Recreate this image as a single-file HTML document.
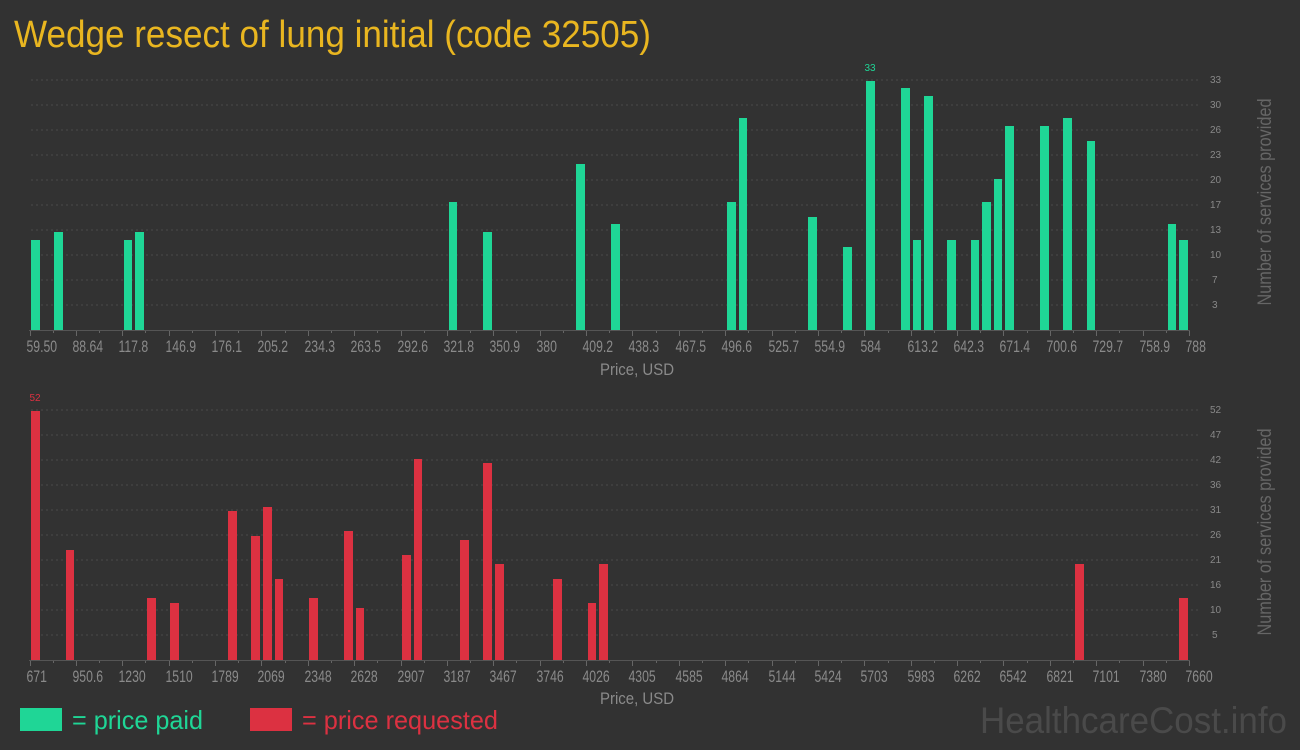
<!DOCTYPE html>
<html><head><meta charset="utf-8"><style>
html,body{margin:0;padding:0;background:#323232;}
svg{display:block;}
text{font-family:"Liberation Sans Narrow","Liberation Sans",sans-serif;}
</style></head><body>
<svg width="1300" height="750" xmlns="http://www.w3.org/2000/svg">
<rect width="1300" height="750" fill="#323232"/>
<text x="14" y="47" font-size="38" fill="#e9b620" textLength="637" lengthAdjust="spacingAndGlyphs">Wedge resect of lung initial (code 32505)</text>

<g stroke="#4a4a4a" stroke-dasharray="2,3" stroke-width="1">
<line x1="31" x2="1200" y1="80" y2="80"/><line x1="31" x2="1200" y1="105" y2="105"/><line x1="31" x2="1200" y1="130" y2="130"/><line x1="31" x2="1200" y1="155" y2="155"/><line x1="31" x2="1200" y1="180" y2="180"/><line x1="31" x2="1200" y1="205" y2="205"/><line x1="31" x2="1200" y1="230" y2="230"/><line x1="31" x2="1200" y1="255" y2="255"/><line x1="31" x2="1200" y1="280" y2="280"/><line x1="31" x2="1200" y1="305" y2="305"/>
<line x1="31" x2="1200" y1="410" y2="410"/><line x1="31" x2="1200" y1="435" y2="435"/><line x1="31" x2="1200" y1="460" y2="460"/><line x1="31" x2="1200" y1="485" y2="485"/><line x1="31" x2="1200" y1="510" y2="510"/><line x1="31" x2="1200" y1="535" y2="535"/><line x1="31" x2="1200" y1="560" y2="560"/><line x1="31" x2="1200" y1="585" y2="585"/><line x1="31" x2="1200" y1="610" y2="610"/><line x1="31" x2="1200" y1="635" y2="635"/>
</g>

<g fill="#1fd696">
<rect x="31" y="240" width="9" height="90"/><rect x="54" y="232" width="9" height="98"/><rect x="124" y="240" width="8" height="90"/><rect x="135" y="232" width="9" height="98"/>
<rect x="449" y="202" width="8" height="128"/><rect x="483" y="232" width="9" height="98"/><rect x="576" y="164" width="9" height="166"/><rect x="611" y="224" width="9" height="106"/>
<rect x="727" y="202" width="9" height="128"/><rect x="739" y="118" width="8" height="212"/><rect x="808" y="217" width="9" height="113"/><rect x="843" y="247" width="9" height="83"/>
<rect x="866" y="81" width="9" height="249"/><rect x="901" y="88" width="9" height="242"/><rect x="913" y="240" width="8" height="90"/><rect x="924" y="96" width="9" height="234"/>
<rect x="947" y="240" width="9" height="90"/><rect x="971" y="240" width="8" height="90"/><rect x="982" y="202" width="9" height="128"/><rect x="994" y="179" width="8" height="151"/>
<rect x="1005" y="126" width="9" height="204"/><rect x="1040" y="126" width="9" height="204"/><rect x="1063" y="118" width="9" height="212"/><rect x="1087" y="141" width="8" height="189"/>
<rect x="1168" y="224" width="8" height="106"/><rect x="1179" y="240" width="9" height="90"/>
</g>
<text x="870" y="71" font-size="10" fill="#1fd696" text-anchor="middle">33</text>

<g fill="#dc3141">
<rect x="31" y="411" width="9" height="249"/><rect x="66" y="550" width="8" height="110"/><rect x="147" y="598" width="9" height="62"/><rect x="170" y="603" width="9" height="57"/>
<rect x="228" y="511" width="9" height="149"/><rect x="251" y="536" width="9" height="124"/><rect x="263" y="507" width="9" height="153"/><rect x="275" y="579" width="8" height="81"/>
<rect x="309" y="598" width="9" height="62"/><rect x="344" y="531" width="9" height="129"/><rect x="356" y="608" width="8" height="52"/><rect x="402" y="555" width="9" height="105"/>
<rect x="414" y="459" width="8" height="201"/><rect x="460" y="540" width="9" height="120"/><rect x="483" y="463" width="9" height="197"/><rect x="495" y="564" width="9" height="96"/>
<rect x="553" y="579" width="9" height="81"/><rect x="588" y="603" width="8" height="57"/><rect x="599" y="564" width="9" height="96"/>
<rect x="1075" y="564" width="9" height="96"/><rect x="1179" y="598" width="9" height="62"/>
</g>
<text x="35" y="401" font-size="10" fill="#dc3141" text-anchor="middle">52</text>

<g stroke="#555" stroke-width="1">
<line x1="29" x2="1190" y1="330.5" y2="330.5"/><line x1="29" x2="1190" y1="660.5" y2="660.5"/>
</g>
<g id="ticks" stroke="#666" stroke-width="1"></g>

<g font-size="10" fill="#888">
<text x="1210" y="83">33</text><text x="1210" y="108">30</text><text x="1210" y="133">26</text><text x="1210" y="158">23</text><text x="1210" y="183">20</text><text x="1210" y="208">17</text><text x="1210" y="233">13</text><text x="1210" y="258">10</text><text x="1212" y="283">7</text><text x="1212" y="308">3</text>
<text x="1210" y="413">52</text><text x="1210" y="438">47</text><text x="1210" y="463">42</text><text x="1210" y="488">36</text><text x="1210" y="513">31</text><text x="1210" y="538">26</text><text x="1210" y="563">21</text><text x="1210" y="588">16</text><text x="1210" y="613">10</text><text x="1212" y="638">5</text>
</g>
<g font-size="19" fill="#666">
<text transform="translate(1271,202) rotate(-90)" text-anchor="middle" textLength="207" lengthAdjust="spacingAndGlyphs">Number of services provided</text>
<text transform="translate(1271,532) rotate(-90)" text-anchor="middle" textLength="207" lengthAdjust="spacingAndGlyphs">Number of services provided</text>
</g>
<g font-size="17" fill="#8a8a8a">
<text x="600" y="375" textLength="74" lengthAdjust="spacingAndGlyphs">Price, USD</text>
<text x="600" y="704" textLength="74" lengthAdjust="spacingAndGlyphs">Price, USD</text>
</g>
<g id="xl1" font-size="17" fill="#8a8a8a"></g>
<g id="xl2" font-size="17" fill="#8a8a8a"></g>

<rect x="20" y="708" width="42" height="23" fill="#1fd696"/>
<text x="72" y="729" font-size="26" fill="#1fd696" textLength="131" lengthAdjust="spacingAndGlyphs">= price paid</text>
<rect x="250" y="708" width="42" height="23" fill="#dc3141"/>
<text x="302" y="729" font-size="26" fill="#dc3141" textLength="196" lengthAdjust="spacingAndGlyphs">= price requested</text>
<text x="980" y="733" font-size="37" fill="#4a4a4a" textLength="307" lengthAdjust="spacingAndGlyphs">HealthcareCost.info</text>
</svg>
<script>
var NS="http://www.w3.org/2000/svg";
var l1=["59.50","88.64","117.8","146.9","176.1","205.2","234.3","263.5","292.6","321.8","350.9","380","409.2","438.3","467.5","496.6","525.7","554.9","584","613.2","642.3","671.4","700.6","729.7","758.9","788"];
var l2=["671","950.6","1230","1510","1789","2069","2348","2628","2907","3187","3467","3746","4026","4305","4585","4864","5144","5424","5703","5983","6262","6542","6821","7101","7380","7660"];
var tg=document.getElementById("ticks"),g1=document.getElementById("xl1"),g2=document.getElementById("xl2");
var step=(1189-29.5)/25,S=0.72;
function ln(x,y1,y2){var e=document.createElementNS(NS,"line");e.setAttribute("x1",x);e.setAttribute("x2",x);e.setAttribute("y1",y1);e.setAttribute("y2",y2);tg.appendChild(e);}
function tx(g,x,y,s){var e=document.createElementNS(NS,"text");e.setAttribute("x",x/S);e.setAttribute("y",y);e.setAttribute("transform","scale("+S+",1)");e.textContent=s;g.appendChild(e);}
for(var i=0;i<26;i++){var x=Math.round(29.5+i*step)+0.5;
ln(x,331,336);ln(x,661,666);
if(i<25){var m=Math.round(29.5+(i+0.5)*step)+0.5;ln(m,331,333);ln(m,661,663);}
tx(g1,x-4,352,l1[i]);tx(g2,x-4,682,l2[i]);}
</script>
</body></html>
